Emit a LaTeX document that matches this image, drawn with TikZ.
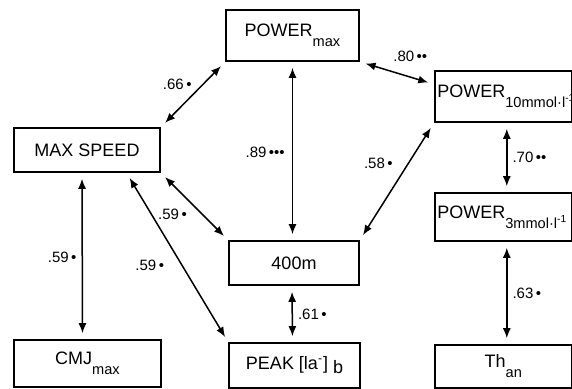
\documentclass[tikz,border=0pt]{standalone}
\usepackage{fontspec}
\setmainfont{Liberation Sans}
\usetikzlibrary{arrows.meta}

\newcommand{\lowsub}[1]{\raisebox{-5pt}{\fontsize{7.3}{8}\selectfont #1}}

\begin{document}
\begin{tikzpicture}[x=0.5pt, y=-0.5pt, font=\fontsize{9}{11}\selectfont,
    box/.style={draw, line width=0.8pt, inner sep=1.25pt},
    rbox/.style={box, anchor=west, minimum width=68.5pt, text width=66pt, align=left},
    link/.style={{Latex[length=5pt,width=4pt]}-{Latex[length=5pt,width=4pt]}, line width=0.75pt, shorten <=3pt, shorten >=3pt},
    lbl/.style={font=\fontsize{7.5}{8}\selectfont, inner sep=0pt}]
\useasboundingbox (0,0) rectangle (572,389);
\node[box, minimum width=66.5pt, minimum height=25.5pt] (pmax) at (292.5,35.5) {POWER\lowsub{max}};
\node[box, minimum width=73pt, minimum height=22pt] (speed) at (87,150) {MAX SPEED};
\node[rbox, minimum height=25.5pt] (p10) at (434,96.5) {\mbox{POWER\lowsub{10mmol·l\textsuperscript{-1}}}};
\node[rbox, minimum height=24pt] (p3) at (434,217) {\mbox{POWER\lowsub{3mmol·l\textsuperscript{-1}}}};
\node[box, minimum width=65pt, minimum height=22pt] (m400) at (294,263) {400m};
\node[box, minimum width=73.5pt, minimum height=23.5pt] (cmj) at (87.5,363.5) {CMJ\lowsub{max}};
\node[box, minimum width=65.5pt, minimum height=22.5pt] (peak) at (294.5,365.5) {PEAK [la\textsuperscript{-}]~\raisebox{-2pt}{b}};
\node[rbox, align=center, minimum height=21.5pt] (than) at (434,366.5) {Th\lowsub{an}};

\draw[link] (speed.north east) -- node[lbl, pos=.66, anchor=east, xshift=-5.5pt] (l66) {.66\,\textbullet} (pmax.south west);
\draw[link] (pmax.south) -- node[lbl, pos=.51, anchor=east, xshift=-3.5pt] (l89) {.89\,\textbullet\textbullet\textbullet} (pmax.south |- m400.north);
\draw[link] (pmax.south east) -- node[lbl, pos=.68, anchor=south, yshift=7.5pt] (l80) {.80\,\textbullet\textbullet} (p10.170);
\draw[link] (p10.south west) -- node[lbl, pos=.345, anchor=east, xshift=-7.5pt] (l58) {.58\,\textbullet} (m400.north east);
\draw[link] (speed.south east) -- node[lbl, pos=.62, anchor=east, xshift=-7.5pt] (l59a) {.59\,\textbullet} (m400.north west);
\draw[link] (speed.-30) -- node[lbl, pos=.544, anchor=east, xshift=-8.5pt] (l59b) {.59\,\textbullet} (peak.north west);
\draw[link] ([xshift=-2.5pt]speed.south) -- node[lbl, pos=.51, anchor=east, xshift=-2.5pt] (l59c) {.59\,\textbullet} ([xshift=-2.5pt]cmj.north);
\foreach \a/\b/\s/\v/\n in {m400/peak/-1pt/{.61\,\textbullet}/l61, p10/p3/1.75pt/{.70\,\textbullet\textbullet}/l70, p3/than/1.75pt/{.63\,\textbullet}/l63}
  \draw[link] ([xshift=\s]\a.south) -- node[lbl, pos=.5, anchor=west, xshift=2.5pt] (\n) {\v} ([xshift=\s]\b.north);
\end{tikzpicture}
\end{document}
